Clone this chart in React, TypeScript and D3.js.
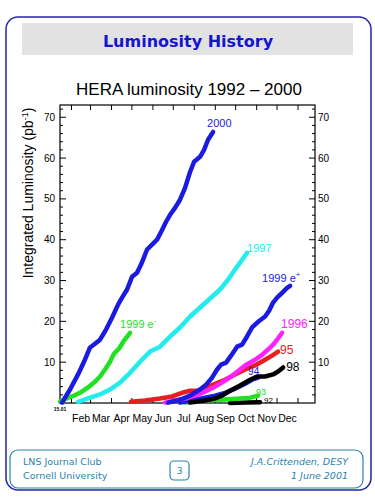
import React from "react";
import * as d3 from "d3";

// x: day of year (Jan 1 = 0), y: integrated luminosity (pb^-1)
const y2000: [number, number][] = [
  [17, 0.1], [28.8, 3.3], [40.6, 7.0], [49.4, 10.1], [58.3, 13.6], [65.6, 14.5], [73, 15.5],
  [81.9, 18.0], [90.7, 20.9], [99.6, 24.1], [105.5, 25.8], [112.9, 27.8], [120.2, 30.9],
  [127.6, 31.9], [133.5, 33.9], [142.4, 37.6], [149.7, 38.8], [157.1, 40.0], [164.5, 42.4],
  [170.4, 44.4], [176.3, 46.1], [183.6, 47.8], [191, 49.8], [198.4, 52.7], [205.8, 56.6],
  [211.7, 59.1], [220.5, 60.3], [226.4, 62.0], [232.3, 64.5], [239.7, 66.4],
];
const y1999em: [number, number][] = [
  [14, 0.3], [22.9, 1.1], [31.7, 1.6], [43.5, 2.5], [55.3, 3.8], [65.6, 5.2], [73, 6.5],
  [80.4, 8.2], [87.8, 10.1], [93.7, 12.1], [101, 13.3], [108.4, 15.3], [117.3, 17.2],
];
const y1997: [number, number][] = [
  [40.6, 0.3], [58.3, 1.3], [73, 2.1], [87.8, 3.3], [102.5, 5.0], [117.3, 7.4], [132, 10.1],
  [146.8, 12.6], [161.5, 13.8], [176.3, 16.3], [191, 18.5], [205.8, 21.2], [220.5, 23.4],
  [235.3, 25.6], [250, 27.8], [261.8, 30.2], [270.7, 32.4], [279.5, 34.4], [289.8, 36.8],
];
const y1999ep: [number, number][] = [
  [173.3, 0.1], [191, 0.8], [205.8, 1.8], [220.5, 3.3], [229.4, 4.5], [238.2, 6.2], [245.6, 8.2],
  [251.5, 9.4], [258.9, 9.9], [266.2, 11.6], [275.1, 13.8], [282.5, 14.3], [289.8, 16.3],
  [297.2, 18.5], [306.1, 19.9], [316.4, 21.2], [322.3, 22.6], [328.2, 24.6], [334.1, 25.8],
  [341.5, 27.0], [348.8, 28.2], [353.3, 28.7],
];
const y1996: [number, number][] = [
  [168.9, 0.1], [183.6, 0.6], [198.4, 1.1], [213.1, 1.8], [227.9, 2.8], [242.6, 4.0],
  [257.4, 5.5], [272.1, 7.2], [286.9, 9.2], [301.6, 10.6], [312, 11.8], [320.8, 13.1],
  [328.2, 14.3], [334.1, 15.5], [341.5, 17.2],
];
const y1995: [number, number][] = [
  [118.7, 0.3], [139.4, 0.6], [161.5, 1.1], [179.2, 1.6], [194, 2.5], [205.8, 3.0], [217.6, 3.0],
  [227.9, 3.8], [242.6, 4.7], [257.4, 5.7], [272.1, 7.0], [286.9, 8.2], [301.6, 9.2],
  [316.4, 10.6], [326.7, 11.6], [335.6, 12.6],
];
const y1994: [number, number][] = [
  [191, 0.1], [213.1, 0.8], [227.9, 1.3], [242.6, 1.8], [257.4, 2.5], [272.1, 3.5],
  [286.9, 4.7], [297.2, 5.7], [306.1, 6.2],
];
const y1998: [number, number][] = [
  [205.8, 0.1], [227.9, 0.6], [242.6, 1.1], [252.9, 1.8], [264.8, 3.0], [279.5, 4.3],
  [294.3, 5.7], [304.6, 6.5], [316.4, 6.5], [328.2, 7.0], [335.6, 7.7], [343, 8.7],
];
const y1993: [number, number][] = [
  [198.4, 0.1], [220.5, 0.6], [250, 0.8], [279.5, 1.1], [294.3, 1.3], [306.1, 1.8],
];
const y1992: [number, number][] = [
  [264.8, 0.0], [286.9, 0.1], [309, 0.2],
];

const monthStarts = [31, 59, 90, 120, 151, 181, 212, 243, 273, 304, 334, 365];
const monthLabels = ["Feb", "Mar", "Apr", "May", "Jun", "Jul", "Aug", "Sep", "Oct", "Nov", "Dec"];
const yMajor = [10, 20, 30, 40, 50, 60, 70];
const yMinor = [2, 4, 6, 8, 12, 14, 16, 18, 22, 24, 26, 28, 32, 34, 36, 38, 42, 44, 46, 48, 52, 54, 56, 58, 62, 64, 66, 68, 72];

const BLUE = "#1a1ae0";
const GREEN = "#22e022";
const CYAN = "#22ecec";
const MAGENTA = "#ff22ff";
const RED = "#e62020";
const BLACK = "#000000";
const TEAL = "#2a82aa";

type Series = { data: [number, number][]; color: string; label: string; sup?: string; dx: number; dy: number; size: number };

const series: Series[] = [
  { data: y1992, color: BLACK, label: "92", dx: 4, dy: 1, size: 8 },
  { data: y1993, color: GREEN, label: "93", dx: -2, dy: -1, size: 9 },
  { data: y1994, color: BLUE, label: "94", dx: -10, dy: -3, size: 10 },
  { data: y1995, color: RED, label: "95", dx: 2, dy: 2, size: 12 },
  { data: y1996, color: MAGENTA, label: "1996", dx: -1, dy: -5, size: 12 },
  { data: y1997, color: CYAN, label: "1997", dx: 0, dy: -1, size: 11 },
  { data: y1998, color: BLACK, label: "98", dx: 3, dy: 4, size: 12 },
  { data: y1999em, color: GREEN, label: "1999 e", sup: "-", dx: -10, dy: -5, size: 11 },
  { data: y1999ep, color: BLUE, label: "1999 e", sup: "+", dx: -28, dy: -4, size: 11 },
  { data: y2000, color: BLUE, label: "2000", dx: -6, dy: -5, size: 11 },
];

export default function App() {
  const x = d3.scaleLinear().domain([14, 390]).range([60, 315]);
  const y = d3.scaleLinear().domain([0, 73]).range([403, 105]);
  const line = d3.line<[number, number]>().x((d) => x(d[0])).y((d) => y(d[1]));
  const font = "'Liberation Sans', Arial, Helvetica, sans-serif";
  const [x0, x1] = x.range();
  const [yb, yt] = y.range();

  return (
    <svg width={375} height={500} style={{ position: "absolute", left: 0, top: 0, background: "#fff" }} fontFamily={font}>
      <rect x={0} y={0} width={375} height={500} fill="#fff" />
      <rect x={6} y={17} width={365} height={473} rx={12} ry={12} fill="none" stroke="#2424a8" strokeWidth={1.5} />
      <rect x={22} y={23} width={331} height={32} fill="#e2e2e2" />
      <text x={188} y={47} textAnchor="middle" fontSize={16} fontWeight="bold" fill="#1414d2" fontFamily="'DejaVu Sans', Verdana, sans-serif">Luminosity History</text>

      <text x={189} y={95} textAnchor="middle" fontSize={17} fill="#000">HERA luminosity 1992 – 2000</text>
      <text transform="translate(33,193) rotate(-90)" textAnchor="middle" fontSize={14} fill="#000">
        Integrated Luminosity (pb<tspan dy={-5} fontSize={9}>-1</tspan><tspan dy={5}>)</tspan>
      </text>

      {/* frame */}
      <rect x={x0} y={yt} width={x1 - x0} height={yb - yt} fill="none" stroke="#000" strokeWidth={1.2} />
      {monthStarts.map((d) => (
        <g key={"m" + d}>
          <line x1={x(d)} x2={x(d)} y1={yt} y2={yt + 5} stroke="#000" />
          <line x1={x(d)} x2={x(d)} y1={yb} y2={yb - 5} stroke="#000" />
        </g>
      ))}
      {monthLabels.map((m, i) => (
        <text key={m} x={(x(monthStarts[i]) + x(monthStarts[i + 1])) / 2} y={422} textAnchor="middle" fontSize={10.5} fill="#000">{m}</text>
      ))}
      <text x={x0} y={411} textAnchor="middle" fontSize={5} fontWeight="bold" fill="#000">15.01</text>
      {yMajor.map((v) => (
        <g key={"y" + v}>
          <line x1={x0} x2={x0 + 6} y1={y(v)} y2={y(v)} stroke="#000" />
          <line x1={x1} x2={x1 - 6} y1={y(v)} y2={y(v)} stroke="#000" />
          <text x={55} y={y(v) + 3.5} textAnchor="end" fontSize={10} fill="#000">{v}</text>
          <text x={318} y={y(v) + 3.5} textAnchor="start" fontSize={10} fill="#000">{v}</text>
        </g>
      ))}
      {yMinor.map((v) => (
        <g key={"n" + v}>
          <line x1={x0} x2={x0 + 3} y1={y(v)} y2={y(v)} stroke="#000" />
          <line x1={x1} x2={x1 - 3} y1={y(v)} y2={y(v)} stroke="#000" />
        </g>
      ))}

      {series.map((s, i) => (
        <path key={"p" + i} d={line(s.data) || ""} fill="none" stroke={s.color} strokeWidth={4.5} strokeLinejoin="round" strokeLinecap="round" />
      ))}
      {series.map((s, i) => {
        const last = s.data[s.data.length - 1];
        return (
          <text key={"l" + i} x={x(last[0]) + s.dx} y={y(last[1]) + s.dy} fontSize={s.size} fill={s.color}>
            {s.label}
            {s.sup ? <tspan dy={-5} fontSize={s.size * 0.7}>{s.sup}</tspan> : null}
          </text>
        );
      })}

      {/* footer */}
      <rect x={10} y={450} width={353} height={38} rx={8} ry={8} fill="none" stroke={TEAL} strokeWidth={1.2} />
      <rect x={170} y={461} width={19} height={19} rx={4} ry={4} fill="none" stroke={TEAL} strokeWidth={1.2} />
      <text x={179.5} y={474} textAnchor="middle" fontSize={9} fill={TEAL} fontFamily="'DejaVu Sans', sans-serif">3</text>
      <text x={23} y={465} fontSize={9.5} fill={TEAL} fontFamily="'DejaVu Sans', sans-serif">LNS Journal Club</text>
      <text x={23} y={479} fontSize={9.5} fill={TEAL} fontFamily="'DejaVu Sans', sans-serif">Cornell University</text>
      <text x={348} y={465} textAnchor="end" fontSize={9.5} fontStyle="italic" fill={TEAL} fontFamily="'DejaVu Sans', sans-serif">J.A.Crittenden, DESY</text>
      <text x={348} y={479} textAnchor="end" fontSize={9.5} fontStyle="italic" fill={TEAL} fontFamily="'DejaVu Sans', sans-serif">1 June 2001</text>
    </svg>
  );
}
